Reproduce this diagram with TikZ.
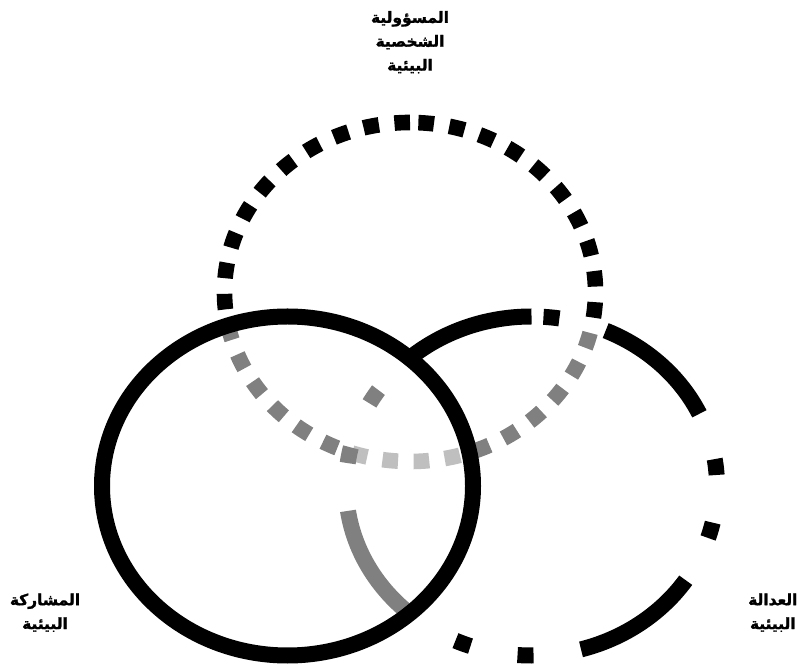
\documentclass[tikz,border=0pt]{standalone}
\usepackage{fontspec}
\newfontfamily\arabicfont[Script=Arabic, BoldFeatures={FakeBold=1.5}]{DejaVu Sans}
\TeXXeTstate=1
\newcommand{\artext}[1]{\beginR #1\endR}

\begin{document}
\begin{tikzpicture}[x=1.0cm,y=1.0cm]
        \tikzset{ring/.style={line width=0.4cm},
            dot ring/.style={line width=0.39cm, dash pattern=on 0.39cm off 0.39cm},
            dashdot ring/.style={ring, dash pattern=on 3.2cm off 1.2cm on 0.4cm off 1.2cm on 0.4cm off 1.2cm},
            veil/.style={fill=white, fill opacity=0.5},
            set label/.style={font=\arabicfont\bfseries\fontsize{11}{17}\selectfont, align=center}}
        \useasboundingbox (0,0) rectangle (19.925,16.775);

        \coordinate (c-resp) at (10.25,9.475);
        \coordinate (c-part) at (7.1875,4.625);
        \coordinate (c-just) at (13.2875,4.625);

        \draw[dot ring] (c-resp) ++(0,4.2375)
            arc[start angle=90, end angle=450, x radius=4.6375, y radius=4.2375];
        \draw[dashdot ring, veil] (c-just) ++(0,4.2375)
            arc[start angle=90, end angle=450, x radius=4.6375, y radius=4.2375];
        \draw[ring, veil] (c-part) ellipse [x radius=4.6375, y radius=4.2375];

        \node[set label] (resp) at (10.25,15.72)
            {\artext{المسؤولية}\\\artext{الشخصية}\\\artext{البيئية}};
        \node[set label] (part) at (1.125,1.46)
            {\artext{المشاركة}\\\artext{البيئية}};
        \node[set label] (just) at (19.32,1.46)
            {\artext{العدالة}\\\artext{البيئية}};
    \end{tikzpicture}
\end{document}
